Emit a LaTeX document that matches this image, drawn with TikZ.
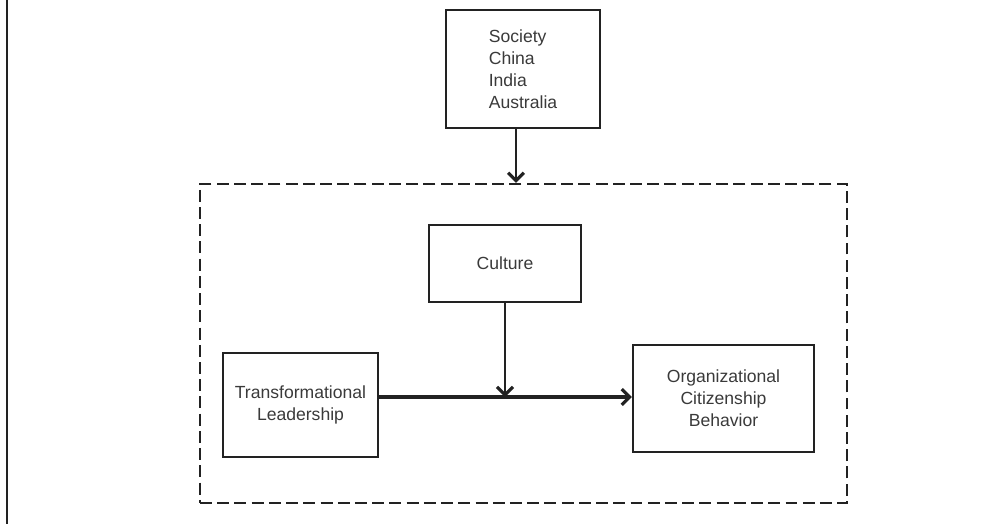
\documentclass[tikz,border=0pt]{standalone}
\usepackage{fontspec}
\setmainfont{Liberation Sans}
\usetikzlibrary{arrows.meta}

\definecolor{ink}{HTML}{222222}
\definecolor{txt}{HTML}{3A3A3A}

\tikzset{
	box/.style={shape=rectangle, draw=ink, line width=1.35pt, text=txt,
		font=\fontsize{10}{12.6}\selectfont, align=center, inner sep=0pt},
	frame/.style={shape=rectangle, draw=ink, line width=1.3pt,
		dash pattern=on 6.8pt off 3pt, inner sep=0pt},
	link/.style={draw=ink, line width=1.3pt, -{Straight Barb[length=4.5pt, width=9pt, line width=1.8pt]}},
}

\begin{document}
\begin{tikzpicture}[x=0.2mm, y=-0.2mm]
	\useasboundingbox (0,0) rectangle (1006,524);
	\draw[ink, line width=1.3pt] (7,0) -- (7,524);

	\node[frame, minimum width=129.4mm, minimum height=63.8mm]          (5) at (523.5,343.5) {};
	\node[box, minimum width=30.8mm, minimum height=23.6mm, align=left] (0) at (523,69)      {Society\\China\\India\\Australia};
	\node[box, minimum width=30.4mm, minimum height=15.4mm]             (1) at (505,263.5)   {Culture};
	\node[box, minimum width=31mm, minimum height=20.8mm]               (2) at (300.5,405)   {Transformational\\Leadership};
	\node[box, minimum width=36.2mm, minimum height=21.4mm]             (3) at (723.5,398.5) {Organizational\\Citizenship\\Behavior};

	\coordinate (m) at (505,397);

	\path [link]                 (0.south -| 516,0) -- (5.north -| 516,0);
	\path [link]                 (1.south -| m) -- (m);
	\path [link, line width=2pt] (2.east |- m) -- (3.west |- m);
\end{tikzpicture}
\end{document}
